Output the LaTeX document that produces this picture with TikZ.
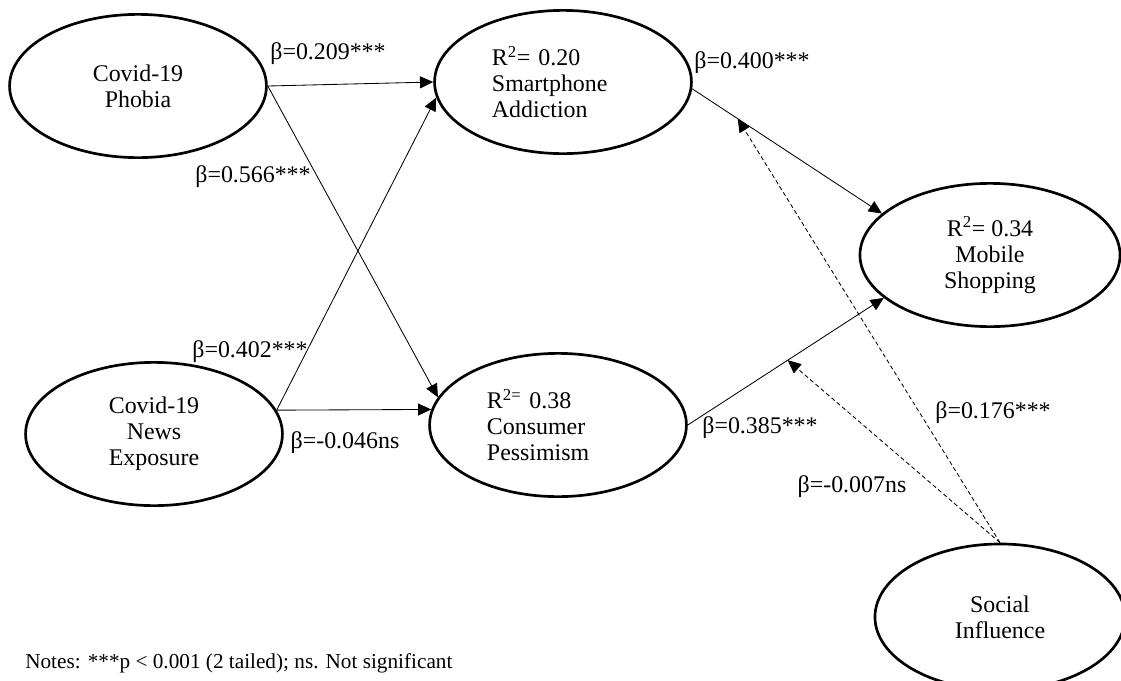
\documentclass[tikz,border=0pt]{standalone}
\usepackage{fontspec}
\setmainfont{Liberation Serif}
\usetikzlibrary{shapes.geometric, arrows.meta}

\begin{document}
\begin{tikzpicture}[x=0.025cm, y=-0.025cm,
  construct/.style={ellipse, draw, line width=1.9pt, minimum width=6.42cm,
  minimum height=3.58cm, inner sep=0pt, align=center, font=\fontsize{17}{18.5}\selectfont},
  effect/.style={-{Triangle[length=0.33cm, width=0.3cm]}, line width=0.6pt},
  moderate/.style={effect, dash pattern=on 3pt off 2pt},
  coef/.style={font=\fontsize{17}{18.5}\selectfont, inner sep=0pt}]
  \clip (0,0) rectangle (1121,680);

  \node[construct] (phobia) at (138,86) {Covid-19\\Phobia};
  \node[construct] (news) at (154,434) {Covid-19\\News\\Exposure};
  \node[construct, text width=3.55cm, align=left] (smart) at (563,82) {R\textsuperscript{2}= 0.20\\Smartphone\\Addiction};
  \node[construct, text width=3.55cm, align=left] (pess) at (558,425) {R\textsuperscript{2=} 0.38\\Consumer\\Pessimism};
  \node[construct, minimum width=6.5cm] (mobile) at (990,255) {R\textsuperscript{2}= 0.34\\Mobile\\Shopping};
  \node[construct, minimum width=6.25cm, minimum height=3.65cm] (social) at (1000,617) {Social\\Influence};

  \draw[effect] (phobia.east) -- (smart.west);
  \draw[effect] (phobia.east) -- (pess.167);
  \draw[effect] (news.11) -- (smart.187);
  \draw[effect] (news.11) -- (pess.173);
  \draw[effect] (smart.357) -- coordinate[pos=0.24] (m1) (mobile.159);
  \draw[effect] (pess.east) -- coordinate[pos=0.51] (m2) (mobile.202);
  \draw[moderate] (social.north) -- (m1);
  \draw[moderate] (social.north) -- (m2);

  \node[coef] (b1) at (328,54) {β=0.209***};
  \node[coef] (b2) at (253,177) {β=0.566***};
  \node[coef] (b3) at (250,352) {β=0.402***};
  \node[coef] (b4) at (345,443) {β=-0.046ns};
  \node[coef] (b5) at (752,63) {β=0.400***};
  \node[coef] (b6) at (760,428) {β=0.385***};
  \node[coef] (b7) at (993,413) {β=0.176***};
  \node[coef] (b8) at (852,487) {β=-0.007ns};

  \node[coef, anchor=west, font=\fontsize{15.1}{18}\selectfont] (notes) at (25,663) {Notes: ***p < 0.001 (2 tailed); ns. Not significant};
\end{tikzpicture}
\end{document}
